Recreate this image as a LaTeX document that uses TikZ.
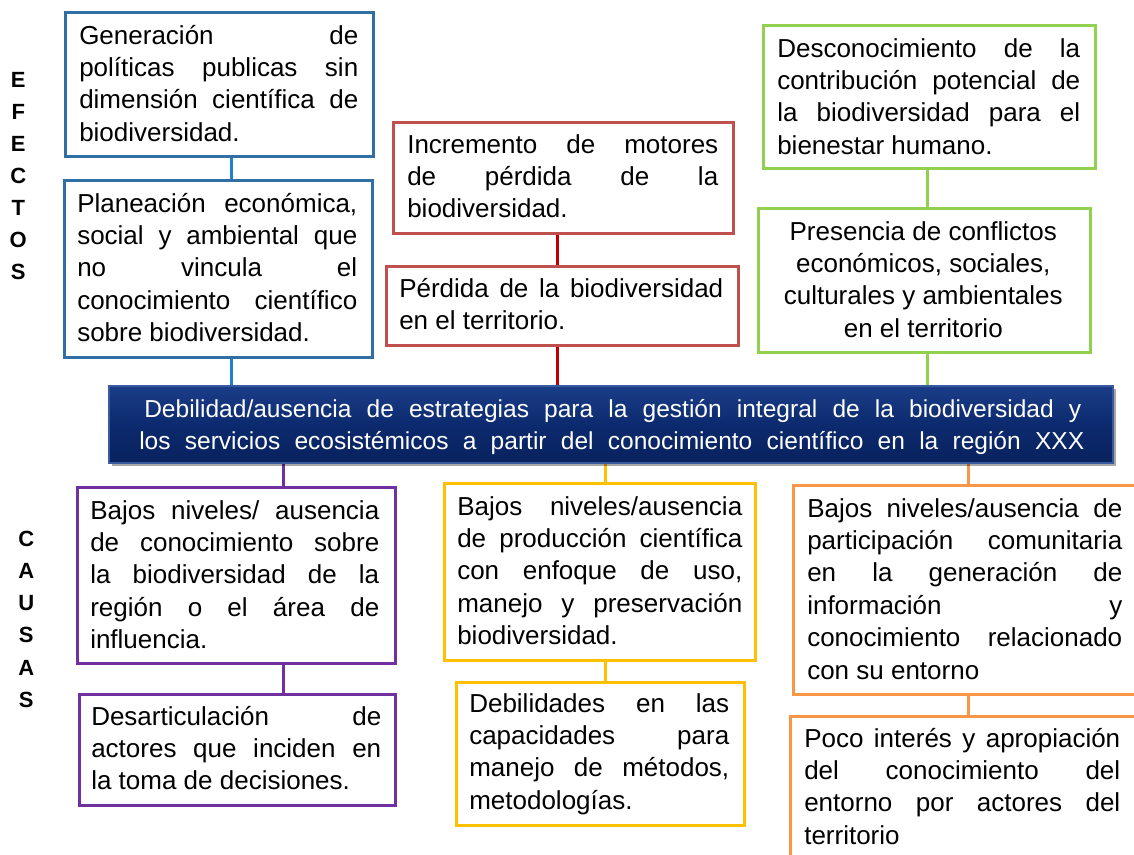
\documentclass[tikz,border=0pt]{standalone}
\usepackage{fontspec}
\setmainfont{Liberation Sans}
\usetikzlibrary{fit,shadows,backgrounds}
\newdimen\pxu \pxu=0.75pt
\newcommand\JL[1]{\hbox to\hsize{#1}}
\newcommand\EL[1]{\hbox{#1}}
\newcommand\CL[1]{\hbox to\hsize{\hfil#1\hfil}}
\newcommand\tblock[2]{\vtop{\hsize=#1\pxu\parindent=0pt\baselineskip=24.3pt\lineskip=0pt\lineskiplimit=-30pt #2}}
\definecolor{bbox}{HTML}{2F6FA3}
\definecolor{bline}{HTML}{1F7FD0}
\definecolor{rbox}{HTML}{C0504D}
\definecolor{rline}{HTML}{C00000}
\definecolor{gbox}{HTML}{92D050}
\definecolor{pbox}{HTML}{7030A0}
\definecolor{ybox}{HTML}{FFC000}
\definecolor{obox}{HTML}{F79646}
\definecolor{navyt}{HTML}{1B3D88}
\definecolor{navym}{HTML}{0C2A6E}
\definecolor{navyb}{HTML}{09225E}
\definecolor{navyl}{HTML}{3A5AA0}
\tikzset{
  cbox/.style={draw=#1, line width=2.25pt, inner sep=0pt, fill=white},
  conn/.style={draw=#1, line width=2.25pt},
  txt/.style={inner sep=0pt, anchor=base west, font=\fontsize{19.5pt}{24.3pt}\selectfont},
  side/.style={inner sep=0pt, anchor=base west, font=\fontsize{16.5pt}{24pt}\selectfont\bfseries},
  mainbox/.style={draw=navyl, line width=0.8pt, inner sep=0pt,
    top color=navyt, bottom color=navyb, middle color=navym,
    drop shadow={shadow xshift=2.5pt, shadow yshift=-2.5pt, fill=black, opacity=0.35}},
}
\begin{document}
\begin{tikzpicture}[x=0.75pt, y=-0.75pt]
\useasboundingbox (0,0) rectangle (1134,854);
\begin{scope}[on background layer]
\fill[white] (0,0) rectangle (1134,854);
\end{scope}
\clip (0,0) rectangle (1134,854);

% side labels
\node[side] (efectos) at (8,87) {\vtop{\hsize=20\pxu\baselineskip=24pt\CL{E}\CL{F}\CL{E}\CL{C}\CL{T}\CL{O}\CL{S}}};
\node[side] (causas) at (16,546) {\vtop{\hsize=20\pxu\baselineskip=24.2pt\CL{C}\CL{A}\CL{U}\CL{S}\CL{A}\CL{S}}};

% boxes
\node[cbox=bbox, fit={(65,12) (373,156)}] (b1) {};
\node[cbox=bbox, fit={(64,180) (372,357)}] (b2) {};
\node[cbox=rbox, fit={(393,122) (733,233)}] (r1) {};
\node[cbox=rbox, fit={(386,266) (738,345)}] (r2) {};
\node[cbox=gbox, fit={(763,25) (1095,168)}] (g1) {};
\node[cbox=gbox, fit={(758,208) (1090,352)}] (g2) {};
\node[mainbox, fit={(109,386) (1113,463)}] (main) {};
\node[cbox=pbox, fit={(77,487) (395,663)}] (p1) {};
\node[cbox=pbox, fit={(79,694) (395,805)}] (p2) {};
\node[cbox=ybox, fit={(444,483) (755,660)}] (y1) {};
\node[cbox=ybox, fit={(456,682) (744,825)}] (y2) {};
\node[cbox=obox, fit={(793,485) (1150,694)}] (o1) {};
\node[cbox=obox, fit={(790,716) (1150,880)}] (o2) {};

% texts
\node[txt] (tb1) at (79,44) {\tblock{279}{\JL{Generación de}\JL{políticas publicas sin}\JL{dimensión científica de}\EL{biodiversidad.}}};
\node[txt] (tb2) at (77,212) {\tblock{280}{\JL{Planeación económica,}\JL{social y ambiental que}\JL{no vincula el}\JL{conocimiento científico}\EL{sobre biodiversidad.}}};
\node[txt] (tr1) at (407,153) {\tblock{311}{\JL{Incremento de motores}\JL{de pérdida de la}\EL{biodiversidad.}}};
\node[txt] (tr2) at (399,297) {\tblock{324}{\JL{Pérdida de la biodiversidad}\EL{en el territorio.}}};
\node[txt] (tg1) at (777,57) {\tblock{303}{\JL{Desconocimiento de la}\JL{contribución potencial de}\JL{la biodiversidad para el}\EL{bienestar humano.}}};
\node[txt] (tg2) at (773,240) {\tblock{300}{\CL{Presencia de conflictos}\CL{económicos, sociales,}\CL{culturales y ambientales}\CL{en el territorio}}};
\node[txt, text=white, font=\fontsize{18.4pt}{24pt}\selectfont] (mtext) at (139,417) {\vtop{\hsize=945\pxu\baselineskip=24pt\lineskiplimit=-30pt
  \hbox to\hsize{\hskip5\pxu\hbox to937\pxu{Debilidad/ausencia de estrategias para la gestión integral de la biodiversidad y}\hss}
  \hbox to\hsize{los servicios ecosistémicos a partir del conocimiento científico en la región XXX}}};
\node[txt] (tp1) at (90,519) {\tblock{289}{\JL{Bajos niveles/ ausencia}\JL{de conocimiento sobre}\JL{la biodiversidad de la}\JL{región o el área de}\EL{influencia.}}};
\node[txt] (tp2) at (91,725) {\tblock{290}{\JL{Desarticulación de}\JL{actores que inciden en}\EL{la toma de decisiones.}}};
\node[txt] (ty1) at (457,515) {\tblock{285}{\JL{Bajos niveles/ausencia}\JL{de producción científica}\JL{con enfoque de uso,}\JL{manejo y preservación}\EL{biodiversidad.}}};
\node[txt] (ty2) at (469,712) {\tblock{260}{\JL{Debilidades en las}\JL{capacidades para}\JL{manejo de métodos,}\EL{metodologías.}}};
\node[txt] (to1) at (807,517) {\tblock{315}{\JL{Bajos niveles/ausencia de}\JL{participación comunitaria}\JL{en la generación de}\JL{información y}\JL{conocimiento relacionado}\EL{con su entorno}}};
\node[txt] (to2) at (804,747) {\tblock{316}{\JL{Poco interés y apropiación}\JL{del conocimiento del}\JL{entorno por actores del}\EL{territorio}}};

% connector x positions
\coordinate (xb) at (231,0);
\coordinate (xr) at (557,0);
\coordinate (xg) at (927,0);
\coordinate (xp) at (283,0);
\coordinate (xy) at (605,0);
\coordinate (xo) at (968,0);

\begin{scope}[on background layer]
\draw[conn=bline] (b1.south -| xb) -- (b2.north -| xb);
\draw[conn=bline] (b2.south -| xb) -- (main.north -| xb);
\draw[conn=rline] (r1.south -| xr) -- (r2.north -| xr);
\draw[conn=rline] (r2.south -| xr) -- (main.north -| xr);
\draw[conn=gbox] (g1.south -| xg) -- (g2.north -| xg);
\draw[conn=gbox] (g2.south -| xg) -- (main.north -| xg);
\draw[conn=pbox] (main.south -| xp) -- (p1.north -| xp);
\draw[conn=pbox] (p1.south -| xp) -- (p2.north -| xp);
\draw[conn=ybox] (main.south -| xy) -- (y1.north -| xy);
\draw[conn=ybox] (y1.south -| xy) -- (y2.north -| xy);
\draw[conn=obox] (main.south -| xo) -- (o1.north -| xo);
\draw[conn=obox] (o1.south -| xo) -- (o2.north -| xo);
\end{scope}
\end{tikzpicture}
\end{document}
